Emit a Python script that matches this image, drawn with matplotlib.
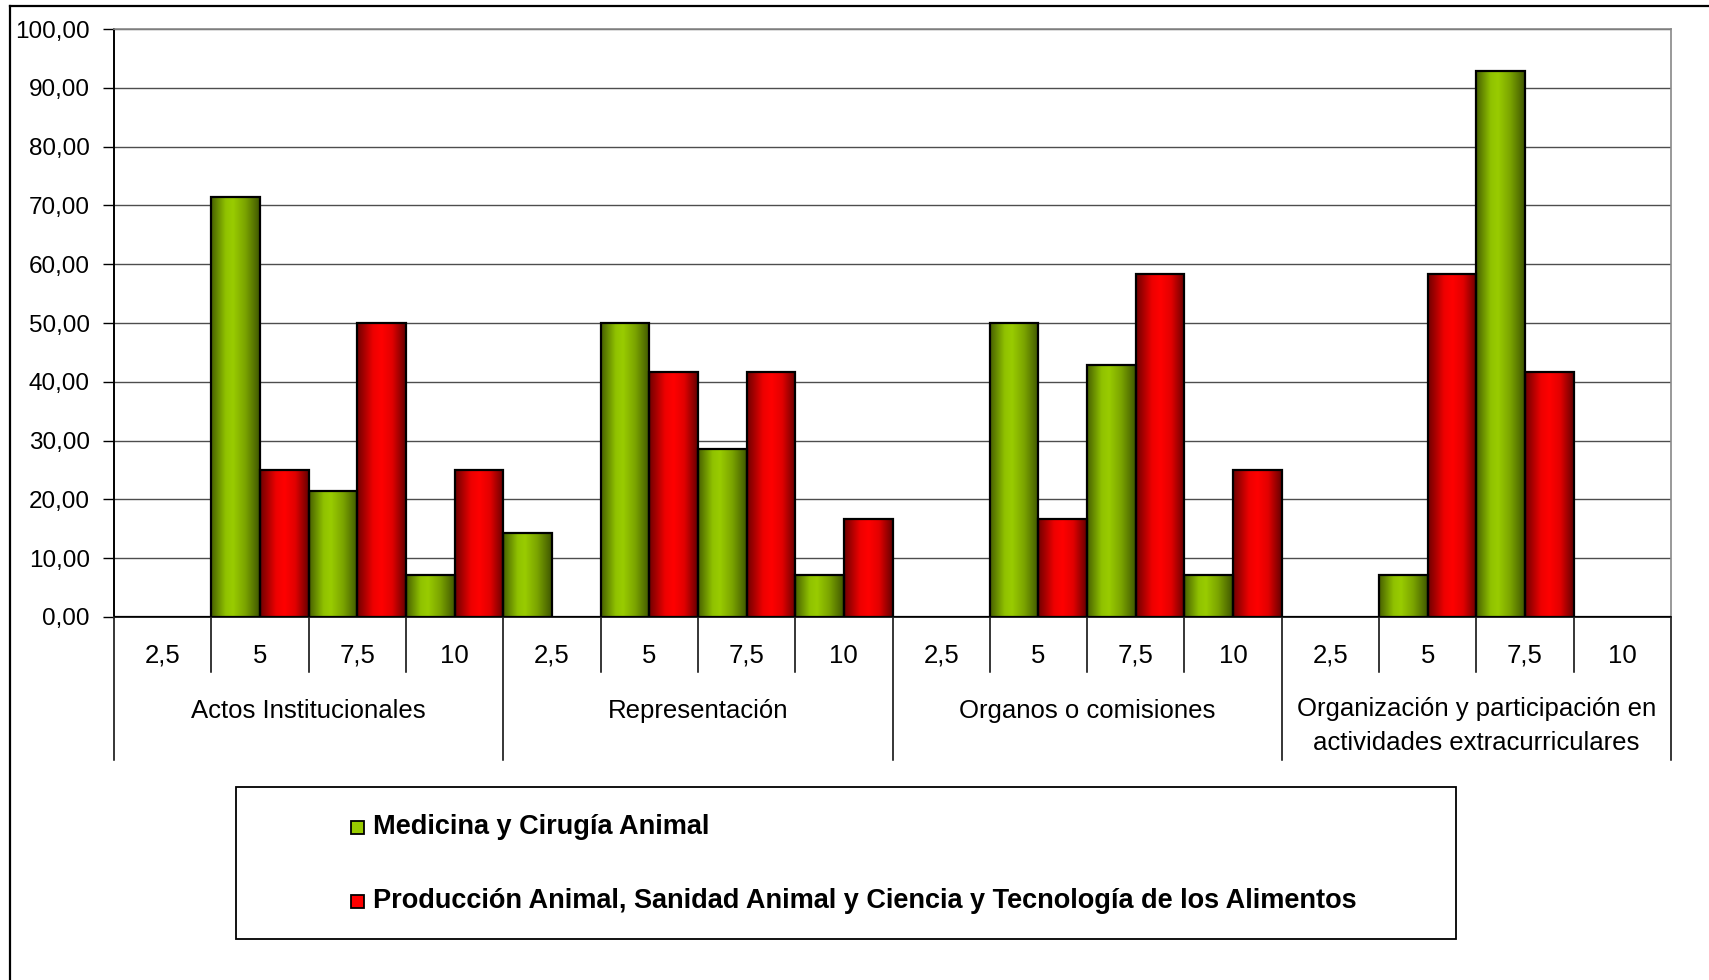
import matplotlib
matplotlib.use("Agg")
import matplotlib.pyplot as plt
import numpy as np
from matplotlib.colors import LinearSegmentedColormap
from matplotlib.patches import Rectangle
from matplotlib.lines import Line2D

plt.rcParams['font.family'] = ['Liberation Sans', 'DejaVu Sans']

# ---------------- data ----------------
groups = ["Actos Institucionales", "Representación", "Organos o comisiones",
          "Organización y participación en\nactividades extracurriculares"]
subcats = ["2,5", "5", "7,5", "10"]
series_names = ["Medicina y Cirugía Animal",
                "Producción Animal, Sanidad Animal y Ciencia y Tecnología de los Alimentos"]
medicina = [0, 71.43, 21.43, 7.14,
            14.29, 50.00, 28.57, 7.14,
            0, 50.00, 42.86, 7.14,
            0, 7.14, 92.86, 0]
produccion = [0, 25.00, 50.00, 25.00,
              0, 41.67, 41.67, 16.67,
              0, 16.67, 58.33, 25.00,
              0, 58.33, 41.67, 0]
yticks = [0, 10, 20, 30, 40, 50, 60, 70, 80, 90, 100]

# ---------------- figure ----------------
W, H = 1709, 980
fig = plt.figure(figsize=(W / 100, H / 100), dpi=100)
fig.patch.set_facecolor('white')

L, R, T, B = 114, 1671, 29, 617
ax = fig.add_axes([L / W, 1 - B / H, (R - L) / W, (B - T) / H])

green_cmap = LinearSegmentedColormap.from_list(
    'g', [(0, '#465f00'), (0.3, '#90c200'), (0.45, '#99cc00'), (0.7, '#7ba400'), (1, '#3f5600')])
red_cmap = LinearSegmentedColormap.from_list(
    'r', [(0, '#6e0000'), (0.33, '#ee0000'), (0.5, '#ff0000'), (0.72, '#e20000'), (1, '#650000')])
grad = np.linspace(0, 1, 256).reshape(1, -1)

n = len(medicina)
x = np.arange(n)
bars_g = ax.bar(x, medicina, width=0.5, align='edge', facecolor='none',
                edgecolor='black', linewidth=1.6, zorder=4)
bars_r = ax.bar(x + 0.5, produccion, width=0.5, align='edge', facecolor='none',
                edgecolor='black', linewidth=1.6, zorder=4)

for bars, cmap in ((bars_g, green_cmap), (bars_r, red_cmap)):
    for b in bars:
        h = b.get_height()
        if h <= 0:
            continue
        x0 = b.get_x()
        w = b.get_width()
        im = ax.imshow(grad, cmap=cmap, aspect='auto', extent=(x0, x0 + w, 0, h),
                       zorder=3, interpolation='bicubic')
        im.set_clip_path(b)

ax.set_xlim(0, n)
ax.set_ylim(0, 100)

# grid
ax.set_yticks(yticks)
ax.set_yticklabels([f"{v:.2f}".replace('.', ',') for v in yticks], fontsize=17.5)
ax.yaxis.grid(True, color='#4d4d4d', linewidth=1.0)
ax.set_axisbelow(True)
ax.tick_params(axis='y', length=8, width=1.0, color='black', pad=9.5)
ax.set_xticks([])

for s in ('top', 'right'):
    ax.spines[s].set_color('#888888')
    ax.spines[s].set_linewidth(1.2)
ax.spines['left'].set_color('black')
ax.spines['left'].set_linewidth(1.4)
ax.spines['bottom'].set_color('#222222')
ax.spines['bottom'].set_linewidth(1.4)

# category axis labels
ppy = B - T
trans = ax.get_xaxis_transform()
for i in range(n + 1):
    if i % 4 == 0:
        y1 = -(760 - B) / ppy
    else:
        y1 = -(672 - B) / ppy
    ax.add_line(Line2D([i, i], [0, y1], transform=trans, color='black',
                       linewidth=1.1, clip_on=False))
for i in range(n):
    ax.text(i + 0.5, -(656 - B) / ppy, subcats[i % 4], transform=trans,
            ha='center', va='center', fontsize=18.5)
for g, name in enumerate(groups):
    if '\n' in name:
        yc = -(726 - B) / ppy
    else:
        yc = -(711 - B) / ppy
    ax.text(g * 4 + 2, yc, name, transform=trans, ha='center', va='center',
            fontsize=18.5, linespacing=1.55)

# legend box
fig.add_artist(Rectangle((236.5 / W, 1 - 939 / H), (1456 - 236.5) / W, (939 - 787) / H,
                         transform=fig.transFigure, facecolor='white',
                         edgecolor='black', linewidth=1.3))
for k, (name, col, yc) in enumerate(((series_names[0], '#99cc00', 827),
                                    (series_names[1], '#ff0000', 901))):
    fig.add_artist(Rectangle((351 / W, 1 - (yc + 6.5) / H), 13 / W, 13 / H,
                             transform=fig.transFigure, facecolor=col,
                             edgecolor='black', linewidth=1.3))
    fig.text(373 / W, 1 - yc / H, name, fontsize=19.5, fontweight='bold',
             ha='left', va='center')

# figure border (left and top)
fig.add_artist(Line2D([10 / W, 10 / W], [0, 1 - 6 / H], transform=fig.transFigure,
                      color='black', linewidth=1.6))
fig.add_artist(Line2D([10 / W, 1], [1 - 6 / H, 1 - 6 / H], transform=fig.transFigure,
                      color='black', linewidth=1.6))

fig.savefig('out.png', dpi=100)
